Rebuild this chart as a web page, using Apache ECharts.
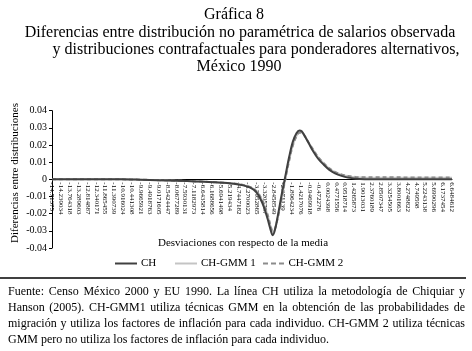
<!DOCTYPE html>
<html><head><meta charset="utf-8">
<script src="https://cdn.jsdelivr.net/npm/echarts@6/dist/echarts.min.js"></script>
<style>html,body{margin:0;padding:0;background:#fff}#c{width:472px;height:351px}</style>
</head><body><div id="c"></div>
<script>
// ---- data ----
var xTickLabels = ["-14.71375","-14.239034","-13.764318","-13.289603","-12.814887","-12.340171","-11.865455","-11.390739","-10.916024","-10.441308","-9.9665921","-9.4918763","-9.0171605","-8.5424447","-8.0677289","-7.5930131","-7.1182973","-6.6435814","-6.1688656","-5.6941498","-5.219434","-4.7447182","-4.2700023","-3.7952865","-3.3205707","-2.8458549","-2.371139","-1.8964234","-1.4217076","-0.9469918","-0.472276","0.0024398","0.4771556","0.9518714","1.4265873","1.9013031","2.3760189","2.8507347","3.3254505","3.8001663","4.2748822","4.749598","5.2243138","5.6990296","6.1737454","6.6484612"];
var yTicks = [-0.04,-0.03,-0.02,-0.01,0,0.01,0.02,0.03,0.04];
var devs = [-14.71,-11.0,-10.0,-9.0,-8.0,-7.0,-6.0,-5.0,-4.5,-4.1,-3.8,-3.6,-3.4,-3.2,-3.05,-2.93,-2.82,-2.65,-2.45,-2.25,-2.05,-1.85,-1.65,-1.5,-1.38,-1.2,-1.0,-0.8,-0.5,-0.2,0.1,0.4,0.75,1.1,1.5,2.0,2.5,3.5,4.5,5.5,6.65];
var valCH = [0,0,-0.0002,-0.0005,-0.0008,-0.0012,-0.0017,-0.0025,-0.0035,-0.005,-0.0075,-0.011,-0.016,-0.023,-0.029,-0.0325,-0.030,-0.021,-0.009,0.002,0.013,0.022,0.027,0.0285,0.028,0.025,0.021,0.017,0.012,0.0085,0.0055,0.0035,0.002,0.001,0.0004,0.0001,0,0,0,0,0];
var valGMM1 = [0,0,-0.0002,-0.0005,-0.0008,-0.0012,-0.0017,-0.0024,-0.0033,-0.0047,-0.007,-0.0100,-0.0145,-0.021,-0.027,-0.0305,-0.0295,-0.022,-0.011,0.0005,0.011,0.020,0.0255,0.0275,0.0273,0.0250,0.0212,0.0178,0.0128,0.0092,0.0062,0.0042,0.0027,0.0018,0.0012,0.0010,0.0010,0.0010,0.0010,0.0010,0.0010];
var valGMM2 = [0,0,-0.0002,-0.0005,-0.0008,-0.0012,-0.0017,-0.0024,-0.0033,-0.0046,-0.0068,-0.0098,-0.0142,-0.0205,-0.0265,-0.0300,-0.0292,-0.0222,-0.0112,0.0003,0.0108,0.0198,0.0252,0.0272,0.0271,0.0249,0.0212,0.0179,0.0130,0.0094,0.0064,0.0044,0.0029,0.0020,0.0014,0.0012,0.0012,0.0012,0.0011,0.0011,0.0011];
var seriesNames = ["CH","CH-GMM 1","CH-GMM 2"];
var titleLines = ["Gráfica 8","Diferencias entre distribución no paramétrica de salarios observada","y distribuciones contrafactuales para ponderadores alternativos,","México 1990"];
var noteLines = ["Fuente: Censo México 2000 y EU 1990. La línea CH utiliza la metodología de Chiquiar y","Hanson (2005). CH-GMM1 utiliza técnicas GMM en la obtención de las probabilidades de","migración y utiliza los factores de inflación para cada individuo. CH-GMM 2 utiliza técnicas","GMM pero no utiliza los factores de inflación para cada individuo."];
var yName = "Diferencias entre distribuciones";
var xName = "Desviaciones con respecto de la media";

function pairs(xs, ys){ return xs.map(function(x,i){ return [x, ys[i]]; }); }

var SERIF = '"Liberation Serif","Times New Roman",serif';
var graphics = [];
var tpos = [[234,15],[240,33],[256,50],[239,67]];
titleLines.forEach(function(t,i){
  graphics.push({type:'text', x:tpos[i][0], y:tpos[i][1], style:{text:t, fill:'#000', font:'16px '+SERIF, align:'center', verticalAlign:'middle'}});
});
graphics.push({type:'text', x:15, y:173, rotation:Math.PI/2, style:{text:yName, fill:'#000', font:'11px '+SERIF, align:'center', verticalAlign:'middle'}});
graphics.push({type:'text', x:243, y:243, style:{text:xName, fill:'#000', font:'11px '+SERIF, align:'center', verticalAlign:'middle'}});
graphics.push({type:'line', shape:{x1:0,y1:278,x2:466,y2:278}, style:{stroke:'#000', lineWidth:1.5}});
var nfont = '12px '+SERIF;
var ctx = document.createElement('canvas').getContext('2d');
ctx.font = nfont;
var L = 8, W = 457, ys = [292,308,324,340];
noteLines.forEach(function(line, li){
  if (li === noteLines.length-1){
    graphics.push({type:'text', x:L, y:ys[li], style:{text:line, fill:'#000', font:nfont, align:'left', verticalAlign:'middle'}});
    return;
  }
  var words = line.split(' ');
  var widths = words.map(function(w){ return ctx.measureText(w).width; });
  var tot = widths.reduce(function(a,b){return a+b;},0);
  var gap = (W - tot)/(words.length-1);
  var x = L;
  words.forEach(function(w,i){
    graphics.push({type:'text', x:x, y:ys[li], style:{text:w, fill:'#000', font:nfont, align:'left', verticalAlign:'middle'}});
    x += widths[i] + gap;
  });
});

var colors = ['#404040','#c4c4c4','#8c8c8c'];
var legendIcons = ['rect','rect','path://M0 0H5V2H0Z M8 0H13V2H8Z M16 0H21V2H16Z'];
var legendLeft = [115,175,263];
var legends = seriesNames.map(function(n,i){
  return {data:[{name:n, icon:legendIcons[i]}], left:legendLeft[i], top:258, itemWidth:22, itemHeight:2, itemGap:0,
    textStyle:{fontFamily:SERIF, fontSize:11, color:'#000', padding:[0,0,0,-1]}, padding:0};
});

var chart = echarts.init(document.getElementById('c'), null, {renderer:'canvas'});
chart.setOption({
  animation:false,
  backgroundColor:'#fff',
  grid:[
    {left:52, right:20, top:110.7, bottom:103, containLabel:false},
    {left:52, right:20, top:110.7, bottom:171.65, containLabel:false}
  ],
  legend:legends,
  xAxis:[
    {type:'value', gridIndex:0, show:false, min:-14.71375, max:6.6484612, splitLine:{show:false}},
    {type:'category', gridIndex:1, data:xTickLabels, boundaryGap:false,
     axisLine:{onZero:false, lineStyle:{color:'#000', width:1}},
     axisTick:{show:false},
     axisLabel:{interval:0, rotate:-90, fontSize:7, fontFamily:SERIF, color:'#000', margin:3},
     splitLine:{show:false}}
  ],
  yAxis:[
    {type:'value', gridIndex:0, min:-0.04, max:0.04, interval:0.01,
    axisLine:{show:true, onZero:false, lineStyle:{color:'#000', width:1}},
    axisTick:{show:true, inside:false, length:3, lineStyle:{color:'#000'}},
    axisLabel:{fontSize:10, fontFamily:SERIF, color:'#000', margin:5,
      formatter:function(v){ var r = Math.round(v*100)/100; return r===0?'0':String(r); }},
    splitLine:{show:false}},
    {type:'value', gridIndex:1, show:false, min:0, max:1, splitLine:{show:false}}
  ],
  series:[
    {name:seriesNames[0], type:'line', xAxisIndex:0, yAxisIndex:0, data:pairs(devs,valCH), symbol:'none', smooth:0.35, z:5,
     lineStyle:{color:colors[0], width:2}, itemStyle:{color:colors[0]}},
    {name:seriesNames[1], type:'line', xAxisIndex:0, yAxisIndex:0, data:pairs(devs,valGMM1), symbol:'none', smooth:0.35, z:3,
     lineStyle:{color:colors[1], width:2}, itemStyle:{color:colors[1]}},
    {name:seriesNames[2], type:'line', xAxisIndex:0, yAxisIndex:0, data:pairs(devs,valGMM2), symbol:'none', smooth:0.35, z:4,
     lineStyle:{color:colors[2], width:2, type:[4,3]}, itemStyle:{color:colors[2]}}
  ],
  graphic:graphics
});
</script></body></html>
